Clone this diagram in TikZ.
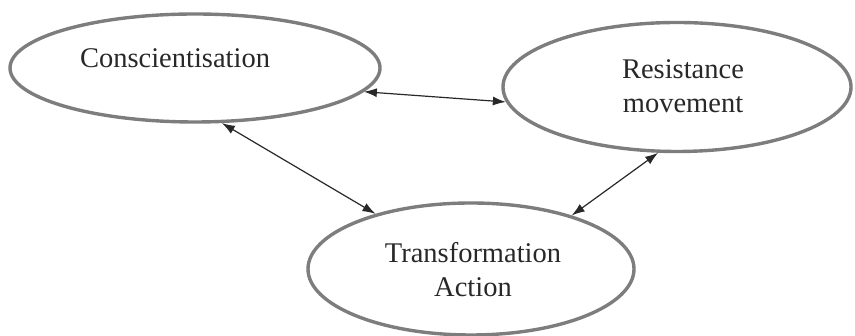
\documentclass[tikz,border=0pt]{standalone}
\usepackage{fontspec}
\setmainfont{Liberation Serif}
\usetikzlibrary{shapes.geometric,arrows.meta,calc}

\definecolor{rimgray}{RGB}{125,125,125}
\definecolor{inkdark}{RGB}{40,40,40}

\tikzset{
  bubble/.style={ellipse, draw=rimgray, line width=3.4pt, inner sep=0pt, outer sep=1.7pt},
  caption/.style={text=inkdark, font=\fontsize{28.5}{34}\selectfont, align=center, inner sep=0pt},
  link/.style={draw=inkdark, line width=1.2pt, {Latex[length=13pt,width=9pt]}-{Latex[length=13pt,width=9pt]}}
}

\begin{document}
\begin{tikzpicture}[x=1pt,y=1pt]
  \useasboundingbox (0,0) rectangle (855,336);

  % the three concepts
  \node[bubble, minimum width=370pt, minimum height=108pt] (consc) at (195,268) {};
  \node[bubble, minimum width=348pt, minimum height=129pt] (resist) at (677,249) {};
  \node[bubble, minimum width=326pt, minimum height=132pt] (trans) at (471,67) {};

  % their labels
  \node[caption] (conscT) at (175,278) {Conscientisation};
  \node[caption] (resistT) at (683,250) {Resistance\\movement};
  \node[caption] (transT) at (473,66) {Transformation\\Action};

  % two-way links between the concepts
  \draw[link] (consc.-8.4) -- (resist.-175.4);
  \draw[link] (consc.-64.3) -- (trans.150.5);
  \draw[link] (resist.-106.3) -- (trans.28.8);
\end{tikzpicture}
\end{document}
